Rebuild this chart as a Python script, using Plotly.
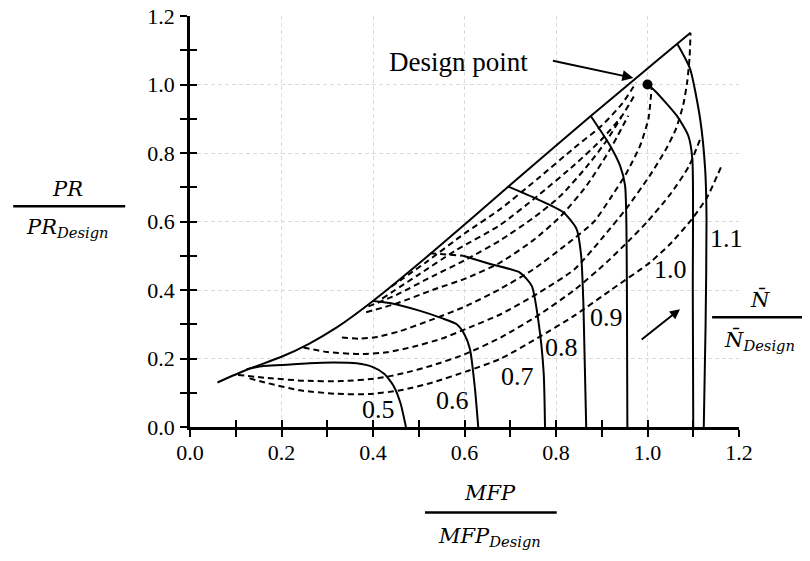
import plotly.graph_objects as go

# ---------------- data ----------------
surge_x = [0.06, 0.124, 0.20, 0.26, 0.32, 0.40, 0.525, 0.696, 0.876, 0.976, 1.065, 1.094]
surge_y = [0.13, 0.167, 0.205, 0.243, 0.29, 0.368, 0.505, 0.702, 0.908, 1.02, 1.119, 1.151]

n05_x = [0.124, 0.16, 0.20, 0.26, 0.313, 0.364, 0.40, 0.425, 0.445, 0.46, 0.472]
n05_y = [0.169, 0.178, 0.181, 0.186, 0.188, 0.186, 0.175, 0.155, 0.12, 0.07, 0.0]
n06_x = [0.40, 0.437, 0.503, 0.55, 0.583, 0.600, 0.612, 0.623, 0.630]
n06_y = [0.368, 0.362, 0.339, 0.318, 0.30, 0.27, 0.227, 0.11, 0.0]
n07_x = [0.597, 0.656, 0.721, 0.747, 0.762, 0.773, 0.776]
n07_y = [0.50, 0.476, 0.451, 0.412, 0.305, 0.159, 0.0]
n07_stub_x = [0.525, 0.597]
n07_stub_y = [0.507, 0.50]
n08_x = [0.696, 0.758, 0.816, 0.845, 0.855, 0.860, 0.866]
n08_y = [0.702, 0.666, 0.627, 0.578, 0.50, 0.354, 0.0]
n09_x = [0.876, 0.918, 0.94, 0.951, 0.955, 0.956]
n09_y = [0.908, 0.822, 0.763, 0.705, 0.40, 0.0]
n10_x = [1.0, 1.016, 1.064, 1.089, 1.098, 1.099, 1.10]
n10_y = [1.0, 0.982, 0.909, 0.851, 0.783, 0.40, 0.0]
n11_x = [1.065, 1.093, 1.115, 1.126, 1.129, 1.127, 1.123]
n11_y = [1.119, 1.046, 0.90, 0.753, 0.607, 0.30, 0.0]

dash_a_x = [0.13, 0.17, 0.24, 0.32, 0.39, 0.46, 0.53, 0.61, 0.68, 0.76, 0.84, 0.92, 1.005, 1.05, 1.097, 1.13, 1.162]
dash_a_y = [0.142, 0.128, 0.107, 0.097, 0.096, 0.107, 0.130, 0.165, 0.20, 0.26, 0.325, 0.40, 0.48, 0.535, 0.607, 0.67, 0.763]
dash_b_x = [0.105, 0.17, 0.25, 0.33, 0.41, 0.47, 0.53, 0.60, 0.68, 0.76, 0.84, 0.91, 0.96, 1.0, 1.05, 1.09, 1.115]
dash_b_y = [0.152, 0.143, 0.135, 0.134, 0.142, 0.158, 0.18, 0.212, 0.262, 0.325, 0.40, 0.48, 0.545, 0.60, 0.68, 0.76, 0.84]
dash_c_x = [0.248, 0.30, 0.37, 0.43, 0.49, 0.55, 0.61, 0.68, 0.76, 0.84, 0.90, 0.955, 1.005, 1.04, 1.062, 1.078, 1.087, 1.092, 1.094]
dash_c_y = [0.232, 0.219, 0.213, 0.218, 0.235, 0.258, 0.29, 0.33, 0.39, 0.46, 0.55, 0.64, 0.734, 0.81, 0.87, 0.94, 1.01, 1.08, 1.151]
dash_d_x = [0.332, 0.37, 0.41, 0.459, 0.532, 0.605, 0.678, 0.75, 0.82, 0.882, 0.918, 0.955, 0.984, 1.002, 1.009]
dash_d_y = [0.261, 0.258, 0.263, 0.28, 0.315, 0.354, 0.403, 0.46, 0.53, 0.598, 0.666, 0.744, 0.822, 0.9, 0.99]
dash_e_x = [0.385, 0.45, 0.53, 0.605, 0.678, 0.75, 0.81, 0.867, 0.918, 0.958]
dash_e_y = [0.335, 0.36, 0.40, 0.435, 0.48, 0.545, 0.615, 0.705, 0.81, 0.909]
dash_f_x = [0.39, 0.45, 0.53, 0.605, 0.678, 0.75, 0.81, 0.867, 0.91, 0.943]
dash_f_y = [0.352, 0.385, 0.44, 0.49, 0.545, 0.61, 0.675, 0.76, 0.835, 0.905]
dash_g_x = [0.42, 0.50, 0.58, 0.678, 0.76, 0.84, 0.90, 0.945, 0.97]
dash_g_y = [0.375, 0.445, 0.515, 0.59, 0.675, 0.765, 0.84, 0.91, 0.965]
dash_h_x = [0.44, 0.52, 0.60, 0.678, 0.76, 0.84, 0.90, 0.945, 0.975]
dash_h_y = [0.41, 0.485, 0.565, 0.636, 0.725, 0.815, 0.88, 0.945, 1.005]

design_x = [1.0]
design_y = [1.0]

speed_labels = ["0.5", "0.6", "0.7", "0.8", "0.9", "1.0", "1.1"]
speed_label_x = [0.413, 0.573, 0.715, 0.813, 0.91, 1.051, 1.172]
speed_label_y = [0.052, 0.078, 0.148, 0.233, 0.32, 0.461, 0.551]

x_ticks = [0.0, 0.2, 0.4, 0.6, 0.8, 1.0, 1.2]
x_tick_text = ["0.0", "0.2", "0.4", "0.6", "0.8", "1.0", "1.2"]
y_ticks = [0.0, 0.2, 0.4, 0.6, 0.8, 1.0, 1.2]
y_tick_text = ["0.0", "0.2", "0.4", "0.6", "0.8", "1.0", "1.2"]

# ---------------- figure ----------------
SERIF = "Liberation Serif, Times New Roman, serif"
MATH = "DejaVu Serif, serif"

fig = go.Figure()

solid = dict(color="black", width=2)
dashed = dict(color="black", width=2, dash="6px,4px")

def add_line(x, y, line, smooth=True):
    fig.add_trace(go.Scatter(
        x=x, y=y, mode="lines",
        line=dict(**line, shape="spline", smoothing=0.6) if smooth else line,
        hoverinfo="skip", showlegend=False))

for dx, dy in [(dash_a_x, dash_a_y), (dash_b_x, dash_b_y), (dash_c_x, dash_c_y),
               (dash_d_x, dash_d_y), (dash_e_x, dash_e_y), (dash_f_x, dash_f_y),
               (dash_g_x, dash_g_y), (dash_h_x, dash_h_y)]:
    add_line(dx, dy, dashed)

add_line(n07_stub_x, n07_stub_y, dashed, smooth=False)

for sx, sy in [(n05_x, n05_y), (n06_x, n06_y), (n07_x, n07_y), (n08_x, n08_y),
               (n09_x, n09_y), (n10_x, n10_y), (n11_x, n11_y)]:
    add_line(sx, sy, solid)

add_line(surge_x, surge_y, solid)

fig.add_trace(go.Scatter(x=design_x, y=design_y, mode="markers",
                         marker=dict(color="black", size=10, symbol="circle"),
                         hoverinfo="skip", showlegend=False))

# empty trace so the overlay axes (inner half of the crossing ticks) are drawn
fig.add_trace(go.Scatter(x=[], y=[], xaxis="x2", yaxis="y2", mode="lines",
                         hoverinfo="skip", showlegend=False))

# speed labels
for t, lx, ly in zip(speed_labels, speed_label_x, speed_label_y):
    fig.add_annotation(x=lx, y=ly, text=t, showarrow=False,
                       xanchor="center", yanchor="middle",
                       font=dict(family=SERIF, size=26, color="black"))

# design point text + arrow
fig.add_annotation(x=0.586, y=1.066, text="Design point", showarrow=False,
                   xanchor="center", yanchor="middle",
                   font=dict(family=SERIF, size=27, color="black"))
fig.add_annotation(x=0.969, y=1.019, ax=0.79, ay=1.07, axref="x", ayref="y",
                   text="", showarrow=True, arrowhead=2, arrowsize=1.1,
                   arrowwidth=2, arrowcolor="black")
# small direction arrow
fig.add_annotation(x=1.071, y=0.344, ax=0.984, ay=0.252, axref="x", ayref="y",
                   text="", showarrow=True, arrowhead=2, arrowsize=1,
                   arrowwidth=2, arrowcolor="black")

# fraction axis titles
def fraction(xc, y_num, y_bar, y_den, x0, x1, num, den):
    for yy, tt in [(y_num, num), (y_den, den)]:
        fig.add_annotation(x=xc, y=yy, xref="paper", yref="paper", text=tt,
                           showarrow=False, xanchor="center", yanchor="middle",
                           font=dict(family=MATH, size=21, color="black"))
    fig.add_shape(type="line", xref="paper", yref="paper", x0=x0, x1=x1,
                  y0=y_bar, y1=y_bar, line=dict(color="black", width=2.5))

fraction(0.546, -0.161, -0.208, -0.268, 0.428, 0.668,
         "<i>MFP</i>", "<i>MFP</i><sub><i>Design</i></sub>")
fraction(-0.224, 0.579, 0.537, 0.484, -0.322, -0.118,
         "<i>PR</i>", "<i>PR</i><sub><i>Design</i></sub>")
fraction(1.038, 0.311, 0.267, 0.211, 0.951, 1.126,
         "<i>N\u0304</i>", "<i>N\u0304</i><sub><i>Design</i></sub>")

axis_common = dict(
    range=[0, 1.2], showline=True, linecolor="black", linewidth=2.5,
    ticks="outside", ticklen=7, tickwidth=2, tickcolor="black",
    minor=dict(dtick=0.1, ticks="outside", ticklen=7, tickwidth=2,
               tickcolor="black", showgrid=False),
    showgrid=True, gridcolor="#dadada", gridwidth=1, griddash="4px,3px",
    zeroline=False, automargin=False, ticklabeloverflow="allow",
    tickfont=dict(family=SERIF, size=22, color="black"),
)
overlay_common = dict(
    range=[0, 1.2], showline=False, showgrid=False, zeroline=False,
    showticklabels=False, ticks="inside", ticklen=7, tickwidth=2,
    tickcolor="black", dtick=0.1, tick0=0, automargin=False,
)

# the page body adds an 8px margin, so the figure is a little smaller and the
# margins are offset to keep the plot area where it is in the reference
fig.update_layout(
    width=802, height=552,
    margin=dict(l=182, r=71, t=8, b=133),
    paper_bgcolor="white", plot_bgcolor="white",
    showlegend=False,
    xaxis=dict(**axis_common, tickvals=x_ticks, ticktext=x_tick_text,
               ticklabelstandoff=-3),
    yaxis=dict(**axis_common, tickvals=y_ticks, ticktext=y_tick_text,
               ticklabelstandoff=1),
    xaxis2=dict(**overlay_common, overlaying="x", anchor="y", side="bottom"),
    yaxis2=dict(**overlay_common, overlaying="y", anchor="x", side="left"),
)

fig.write_html("out.html")
